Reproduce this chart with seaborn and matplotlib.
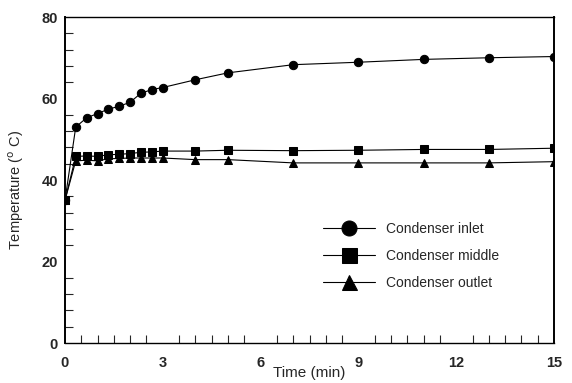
import matplotlib
matplotlib.use("Agg")
import matplotlib.pyplot as plt
import seaborn as sns
import pandas as pd
from matplotlib.ticker import MultipleLocator

time_min = [0, 0.33, 0.67, 1.0, 1.33, 1.67, 2.0, 2.33, 2.67, 3.0, 4, 5, 7, 9, 11, 13, 15]
inlet = [35.0, 53.0, 55.3, 56.3, 57.4, 58.1, 59.1, 61.3, 62.2, 62.7, 64.6, 66.3, 68.3, 68.9, 69.6, 70.0, 70.3]
middle = [35.0, 45.8, 45.9, 45.8, 46.2, 46.3, 46.5, 46.8, 46.9, 47.1, 47.1, 47.3, 47.2, 47.3, 47.5, 47.5, 47.8]
outlet = [35.0, 44.7, 44.85, 44.7, 45.2, 45.3, 45.4, 45.4, 45.4, 45.4, 45.0, 45.0, 44.2, 44.2, 44.2, 44.2, 44.5]
series_names = ["Condenser inlet", "Condenser middle", "Condenser outlet"]
x_ticks = [0, 3, 6, 9, 12, 15]
y_ticks = [0, 20, 40, 60, 80]

df = pd.concat([
    pd.DataFrame({"t": time_min, "T": vals, "s": name})
    for name, vals in zip(series_names, [inlet, middle, outlet])
])

sns.set_style("white")
plt.rcParams['font.family'] = ['Liberation Sans', 'DejaVu Sans']

fig = plt.figure(figsize=(5.72, 3.83), dpi=100)
ax = fig.add_axes([0.1136, 0.1044, 0.855, 0.8512])

sns.lineplot(data=df, x="t", y="T", hue="s", style="s",
             markers={"Condenser inlet": "o", "Condenser middle": "s", "Condenser outlet": "^"},
             dashes=False, palette=["black"] * 3, markersize=6, linewidth=0.8,
             markeredgecolor="black", ax=ax, legend=True)

ax.set_xlim(0, 15)
ax.set_ylim(0, 80)
ax.set_xticks(x_ticks)
ax.set_yticks(y_ticks)
ax.xaxis.set_minor_locator(MultipleLocator(0.5))
ax.yaxis.set_minor_locator(MultipleLocator(4))
ax.tick_params(axis="x", which="major", pad=9)
ax.tick_params(axis="y", which="major", pad=5)
ax.tick_params(axis="both", which="major", direction="in", length=11, width=1,
               labelsize=10.5, top=False, right=False)
ax.tick_params(axis="both", which="minor", direction="in", length=5.5, width=0.8,
               top=False, right=False, left=True, bottom=True)
for lab in ax.get_xticklabels() + ax.get_yticklabels():
    lab.set_fontweight("bold")
for sp in ax.spines.values():
    sp.set_visible(True)
    sp.set_color("black")
    sp.set_linewidth(1.0)
ax.spines["left"].set_linewidth(1.4)
ax.spines["right"].set_linewidth(1.4)

ax.set_xlabel("Time (min)", fontsize=11)
ax.xaxis.set_label_coords(0.5, -0.07)
ax.set_ylabel("Temperature ($^{\\rm o}$ C)", fontsize=10.5)
ax.yaxis.set_label_coords(-0.08, 0.47)

leg = ax.legend(title=None, frameon=False, fontsize=10, loc="center left",
                bbox_to_anchor=(0.528, 0.267), borderaxespad=0, borderpad=0,
                handlelength=3.7, labelspacing=0.95,
                handletextpad=0.85, markerscale=1.8)

fig.savefig("out.png", dpi=100)
